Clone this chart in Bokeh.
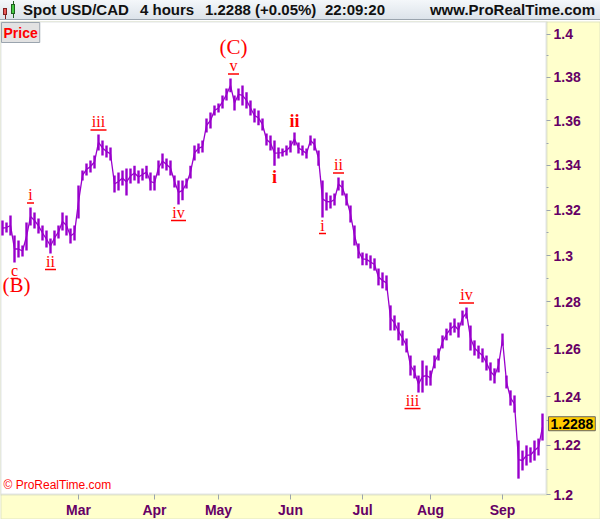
import math
from bokeh.plotting import figure
from bokeh.models import (FixedTicker, CustomJSTickFormatter, Label, Div, BoxAnnotation,
                          ColumnDataSource, Range1d)
from bokeh.layouts import column
from bokeh.embed import file_html
from bokeh.resources import INLINE
from bokeh.core.properties import value

# ---------------- data ----------------
bar_high = [1.3154, 1.3145, 1.3176, 1.3088, 1.3066, 1.3044, 1.3145, 1.3211, 1.3189, 1.3163,
            1.3132, 1.3110, 1.3075, 1.3110, 1.3132, 1.3189, 1.3176, 1.3119, 1.3132, 1.3309,
            1.3376, 1.3408, 1.3421, 1.3444, 1.3539, 1.3511, 1.3489, 1.3480, 1.3354, 1.3367,
            1.3376, 1.3385, 1.3385, 1.3398, 1.3376, 1.3385, 1.3398, 1.3367, 1.3354, 1.3421,
            1.3453, 1.3430, 1.3421, 1.3354, 1.3332, 1.3332, 1.3340, 1.3398, 1.3489, 1.3498,
            1.3511, 1.3611, 1.3639, 1.3671, 1.3680, 1.3717, 1.3749, 1.3795, 1.3717, 1.3749,
            1.3763, 1.3731, 1.3694, 1.3657, 1.3648, 1.3611, 1.3543, 1.3534, 1.3511, 1.3480,
            1.3475, 1.3489, 1.3511, 1.3548, 1.3502, 1.3489, 1.3475, 1.3534, 1.3520, 1.3466,
            1.3332, 1.3278, 1.3265, 1.3274, 1.3345, 1.3332, 1.3274, 1.3220, 1.3132, 1.3053,
            1.3014, 1.3009, 1.3001, 1.2988, 1.2944, 1.2927, 1.2914, 1.2785, 1.2742, 1.2712,
            1.2678, 1.2644, 1.2572, 1.2530, 1.2488, 1.2551, 1.2530, 1.2509, 1.2572, 1.2602,
            1.2657, 1.2686, 1.2712, 1.2729, 1.2712, 1.2763, 1.2776, 1.2699, 1.2636, 1.2614,
            1.2602, 1.2572, 1.2543, 1.2518, 1.2559, 1.2665, 1.2488, 1.2426, 1.2405, 1.2219,
            1.2178, 1.2199, 1.2191, 1.2219, 1.2227, 1.2330]
bar_low = [1.3088, 1.3101, 1.3088, 1.2970, 1.2992, 1.2996, 1.3022, 1.3132, 1.3119, 1.3097,
           1.3066, 1.3035, 1.3009, 1.3044, 1.3075, 1.3110, 1.3088, 1.3053, 1.3066, 1.3163,
           1.3332, 1.3354, 1.3367, 1.3385, 1.3466, 1.3444, 1.3435, 1.3421, 1.3278, 1.3287,
           1.3309, 1.3265, 1.3318, 1.3332, 1.3318, 1.3332, 1.3340, 1.3287, 1.3287, 1.3354,
           1.3385, 1.3376, 1.3354, 1.3300, 1.3225, 1.3243, 1.3296, 1.3340, 1.3421, 1.3453,
           1.3457, 1.3548, 1.3566, 1.3625, 1.3639, 1.3657, 1.3694, 1.3731, 1.3648, 1.3694,
           1.3671, 1.3657, 1.3625, 1.3593, 1.3580, 1.3557, 1.3489, 1.3466, 1.3398, 1.3430,
           1.3439, 1.3444, 1.3457, 1.3489, 1.3453, 1.3444, 1.3430, 1.3489, 1.3466, 1.3398,
           1.3167, 1.3198, 1.3207, 1.3220, 1.3287, 1.3265, 1.3220, 1.3145, 1.3044, 1.2988,
           1.2958, 1.2958, 1.2944, 1.2935, 1.2871, 1.2858, 1.2849, 1.2678, 1.2678, 1.2636,
           1.2614, 1.2585, 1.2488, 1.2476, 1.2417, 1.2417, 1.2446, 1.2446, 1.2518, 1.2551,
           1.2602, 1.2636, 1.2657, 1.2669, 1.2648, 1.2699, 1.2729, 1.2593, 1.2572, 1.2559,
           1.2543, 1.2509, 1.2467, 1.2455, 1.2501, 1.2614, 1.2434, 1.2363, 1.2334, 1.2064,
           1.2097, 1.2117, 1.2129, 1.2137, 1.2158, 1.2219]

month_labels = ["Mar", "Apr", "May", "Jun", "Jul", "Aug", "Sep"]
month_start_bar = [19, 38, 54, 72, 90, 107, 125]

y_tick_values = [1.2, 1.22, 1.24, 1.26, 1.28, 1.3, 1.32, 1.34, 1.36, 1.38, 1.4]
y_minor_values = [1.21, 1.23, 1.25, 1.27, 1.29, 1.31, 1.33, 1.35, 1.37, 1.39]

last_price = 1.2288
last_change = "+0.05%"
instrument = "Spot USD/CAD"
timeframe = "4 hours"
clock = "22:09:20"

wave_text = ["c", "i", "ii", "iii", "iv", "v", "i", "ii", "iii", "iv"]
wave_bar = [3, 7, 12, 24, 44, 57, 80, 84, 104, 116]
wave_side = ["below", "above", "below", "above", "below", "above", "below", "above", "below", "above"]

degree_text = ["(B)", "(C)"]
degree_bar = [3, 57]
degree_side = ["below", "above"]

bold_text = ["i", "ii"]
bold_bar = [68, 73]
bold_side = ["below", "above"]

# ---------------- styles / geometry ----------------
PURPLE = "#9900CC"
RED = "#FF0000"
AXIS_GRAY = "#9AA4AE"
PANEL = "#FFFFCC"
LABEL_COL = "#660066"

FIG_W, FIG_H = 600, 498
HEADER_H = 21
PANEL_B = 25                         # height of the time-axis strip (px)
PRICE_BOTTOM, PRICE_TOP = 1.2, 1.4061
X_MIN, X_MAX = -0.5, 149.5           # whole width; price panel starts at AXIS_X
AXIS_X = 136

plot_h = FIG_H - PANEL_B
K = plot_h / math.log(PRICE_TOP / PRICE_BOTTOM)      # px per log unit
Y_LOW = PRICE_BOTTOM * math.exp(-PANEL_B / K)       # range extends under the time strip
PPI = FIG_W / (X_MAX - X_MIN)                        # px per bar index


def shift(price, dpx):
    """price moved dpx screen pixels downward on the log scale"""
    return price * math.exp(-dpx / K)


ul_width = {"c": 7, "i": 7, "ii": 11, "iii": 16, "iv": 15, "v": 11}
wave_dx = {8: -6, 5: 3}

# ---------------- figure ----------------
p = figure(width=FIG_W, height=FIG_H, y_axis_type="log", y_axis_location="right",
           x_range=Range1d(X_MIN, X_MAX), y_range=Range1d(Y_LOW, PRICE_TOP),
           output_backend="svg", toolbar_location=None,
           min_border_left=0, min_border_top=0, min_border_right=0, min_border_bottom=0)
p.border_fill_color = PANEL
p.background_fill_color = PANEL
p.outline_line_color = None
p.grid.visible = False

# outer grey border and white price area with grey frame
p.add_layout(BoxAnnotation(fill_alpha=0, line_color=AXIS_GRAY, line_width=2, level="underlay"))
p.add_layout(BoxAnnotation(right=AXIS_X, bottom=PRICE_BOTTOM, fill_color="white", fill_alpha=1.0,
                           line_color=AXIS_GRAY, line_width=2, level="underlay"))

n = len(bar_high)
idx = list(range(n))
mid = [(h + l) / 2 for h, l in zip(bar_high, bar_low)]
src = ColumnDataSource(dict(x=idx, hi=bar_high, lo=bar_low, mid=mid))
p.segment(x0="x", y0="lo", x1="x", y1="hi", source=src, line_color=PURPLE, line_width=2.4)
p.line(x="x", y="mid", source=src, line_color=PURPLE, line_width=1.3)

# y axis (drawn at the edge of the price area)
yax = p.yaxis[0]
yax.fixed_location = AXIS_X
yax.ticker = FixedTicker(ticks=y_tick_values, minor_ticks=y_minor_values)
yax.formatter = CustomJSTickFormatter(code="return tick.toFixed(2).replace(/0$/, '');")
yax.major_label_text_font = "Liberation Sans"
yax.major_label_text_font_style = "bold"
yax.major_label_text_font_size = "14px"
yax.major_label_text_color = LABEL_COL
yax.axis_line_color = None
yax.major_tick_line_color = AXIS_GRAY
yax.minor_tick_line_color = AXIS_GRAY
yax.major_tick_in = 0
yax.major_tick_out = 4
yax.minor_tick_in = 0
yax.minor_tick_out = 2
yax.major_label_standoff = 3

# x axis (drawn at the bottom of the price area)
xax = p.xaxis[0]
xax.fixed_location = PRICE_BOTTOM
xax.ticker = FixedTicker(ticks=month_start_bar)
xax.major_label_overrides = {b: m for b, m in zip(month_start_bar, month_labels)}
xax.major_label_text_font = "Liberation Sans"
xax.major_label_text_font_style = "bold"
xax.major_label_text_font_size = "14px"
xax.major_label_text_color = LABEL_COL
xax.axis_line_color = None
xax.major_tick_line_color = AXIS_GRAY
xax.minor_tick_line_color = None
xax.major_tick_in = 0
xax.major_tick_out = 5
xax.major_label_standoff = 2

# ---------------- wave labels ----------------
tx, ty, tt, ux0, ux1, uy = [], [], [], [], [], []
for k, (t, b, s) in enumerate(zip(wave_text, wave_bar, wave_side)):
    xc = b + wave_dx.get(k, 0) / PPI
    if s == "above":
        ty.append(shift(bar_high[b], -13))
        uy.append(shift(bar_high[b], -4.5))
    else:
        ty.append(shift(bar_low[b], 8))
        uy.append(shift(bar_low[b], 16))
    tx.append(xc)
    tt.append(t)
    hw = ul_width.get(t, 10) / 2 / PPI
    ux0.append(xc - hw)
    ux1.append(xc + hw)

p.text(x=tx, y=ty, text=tt, text_font=value("Liberation Serif"), text_font_size="16px",
       text_color=RED, text_align="center", text_baseline="middle")
p.segment(x0=ux0, y0=uy, x1=ux1, y1=uy, line_color=RED, line_width=1.5)

dx_, dy_ = [], []
for t, b, s in zip(degree_text, degree_bar, degree_side):
    if s == "above":
        dy_.append(shift(bar_high[b], -31))
        dx_.append(b + 3 / PPI)
    else:
        dy_.append(shift(bar_low[b], 22))
        dx_.append(b + 2 / PPI)
p.text(x=dx_, y=dy_, text=degree_text, text_font=value("Liberation Serif"),
       text_font_size="21px", text_color=RED, text_align="center", text_baseline="middle")

bx_, by_ = [], []
for t, b, s in zip(bold_text, bold_bar, bold_side):
    bx_.append(b)
    by_.append(shift(bar_high[b], -11) if s == "above" else shift(bar_low[b], 11))
p.text(x=bx_, y=by_, text=bold_text, text_font=value("Liberation Serif"),
       text_font_size="18px", text_font_style="bold", text_color=RED,
       text_align="center", text_baseline="middle")

# ---------------- boxes & notes ----------------
p.add_layout(Label(x=X_MIN, y=PRICE_TOP, x_offset=1, y_offset=-1, text="Price",
                   text_align="left", text_baseline="top",
                   text_font="Liberation Sans", text_font_style="bold", text_font_size="14px",
                   text_color=RED, background_fill_color="#E2E2E2",
                   border_line_color=AXIS_GRAY, padding=2))
p.add_layout(Label(x=X_MIN, y=PRICE_BOTTOM, x_offset=3, y_offset=3, text="© ProRealTime.com",
                   text_align="left", text_baseline="bottom",
                   text_font="Liberation Sans", text_font_size="12px", text_color=RED))
p.add_layout(Label(x=AXIS_X, y=last_price, x_offset=2, level="overlay",
                   text=f"{last_price:.4f}",
                   text_align="left", text_baseline="middle",
                   text_font="Liberation Sans", text_font_style="bold", text_font_size="14px",
                   text_color="black", background_fill_color="#FFCC00",
                   border_line_color="#666666", padding=2))

# ---------------- header ----------------
header_html = f"""
<div style="position:relative;width:{FIG_W}px;height:{HEADER_H - 1}px;overflow:hidden;
background:linear-gradient(to bottom,#F4F7FA,#DCE3EA);border-bottom:1px solid {AXIS_GRAY};
font-family:'Liberation Sans',Arial,sans-serif;font-weight:bold;font-size:15px;color:#111;line-height:20px;">
<div style="position:absolute;left:5px;top:11px;width:1px;height:8px;background:#802020"></div>
<div style="position:absolute;left:3px;top:8px;width:4px;height:7px;background:#E85A5A;border:1px solid #802020"></div>
<div style="position:absolute;left:13px;top:1px;width:1px;height:17px;background:#206020"></div>
<div style="position:absolute;left:11px;top:4px;width:4px;height:10px;background:#44CC44;border:1px solid #206020"></div>
<span style="position:absolute;left:23px;top:0">{instrument}</span>
<span style="position:absolute;left:140px;top:0">{timeframe}</span>
<span style="position:absolute;left:205px;top:0">{last_price:.4f} ({last_change})</span>
<span style="position:absolute;left:325px;top:0">{clock}</span>
<span style="position:absolute;right:5px;top:0">www.ProRealTime.com</span>
</div>
"""
header = Div(text=header_html, width=FIG_W, height=HEADER_H, margin=0)

layout = column(header, p, spacing=0)
open("out.html", "w").write(file_html(layout, INLINE))
